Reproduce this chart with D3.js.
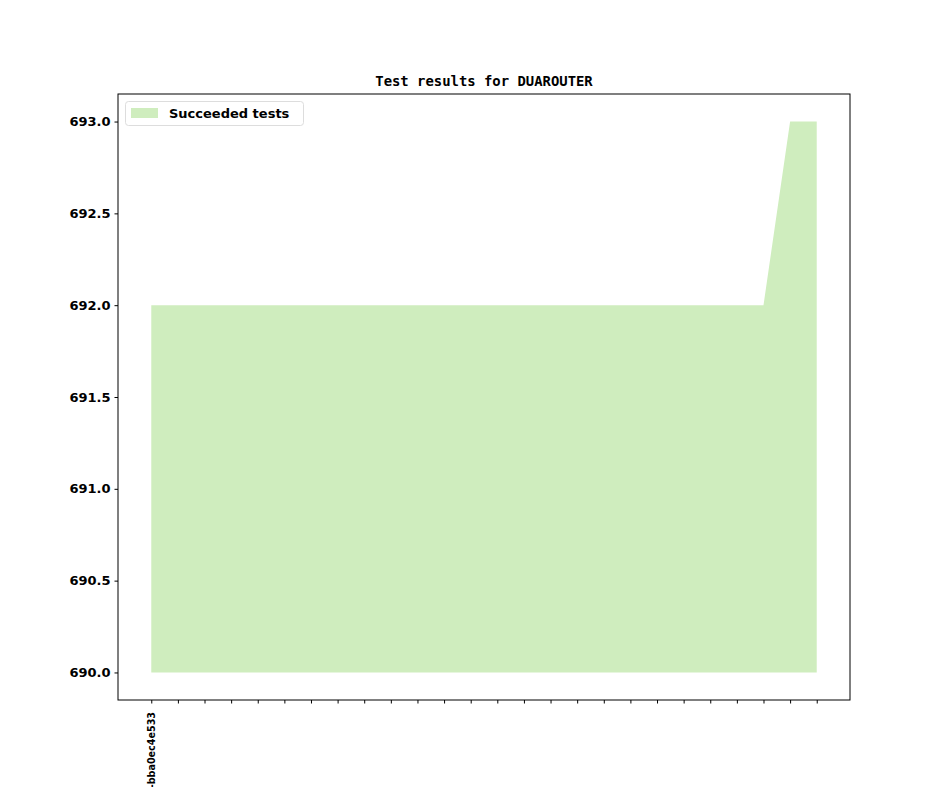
<!DOCTYPE html>
<html><head><meta charset="utf-8">
<script src="https://d3js.org/d3.v7.min.js"></script>
<style>body{margin:0;background:#fff}</style>
</head><body>
<script>
const title = "Test results for DUAROUTER";
const seriesName = "Succeeded tests";
const xLabels = ["v1_0_0-bba0ec4e533"].concat(Array(25).fill(""));
const succeeded = [692,692,692,692,692,692,692,692,692,692,692,692,692,692,692,692,692,692,692,692,692,692,692,692,693,693];
const baseline = 690;
const yTicks = [690.0,690.5,691.0,691.5,692.0,692.5,693.0];

const W=944,H=787;
const m={l:118,r:850,t:94,b:700};
const svg=d3.select("body").append("svg").attr("width",W).attr("height",H);
const n=succeeded.length;
const x=d3.scaleLinear().domain([-0.05*(n-1),(n-1)*1.05]).range([m.l,m.r]);
const ymin=baseline, ymax=d3.max(succeeded), pad=(ymax-ymin)*0.05;
const y=d3.scaleLinear().domain([ymin-pad,ymax+pad]).range([m.b,m.t]);
const fill="#cfedbe";

const area=d3.area().x((d,i)=>x(i)).y0(y(baseline)).y1(d=>y(d));
svg.append("path").datum(succeeded).attr("d",area).attr("fill",fill);

const yAxis=svg.append("g").attr("transform",`translate(${m.l},0)`)
  .call(d3.axisLeft(y).tickValues(yTicks).tickFormat(d3.format(".1f")).tickSize(3.5).tickPadding(4));
yAxis.select(".domain").remove();
yAxis.selectAll("text").attr("font-family","DejaVu Sans").attr("font-weight","bold").attr("font-size","13px").attr("fill","#000");
yAxis.selectAll("line").attr("stroke","#000");

const xAxis=svg.append("g").attr("transform",`translate(0,${m.b})`)
  .call(d3.axisBottom(x).tickValues(d3.range(n)).tickFormat(i=>xLabels[i]).tickSize(3.5).tickPadding(4));
xAxis.select(".domain").remove();
xAxis.selectAll("line").attr("stroke","#000");
xAxis.selectAll("text").attr("font-family","DejaVu Sans").attr("font-weight","bold").attr("font-size","9.6px").attr("fill","#000")
  .attr("text-anchor","end").attr("dy","0.35em").attr("transform","rotate(-90)").attr("x",-12).attr("y",0);

svg.append("rect").attr("x",m.l).attr("y",m.t).attr("width",m.r-m.l).attr("height",m.b-m.t)
  .attr("fill","none").attr("stroke","#000").attr("stroke-width",1);

svg.append("text").attr("x",(m.l+m.r)/2).attr("y",m.t-8).attr("text-anchor","middle")
  .attr("font-family","DejaVu Sans Mono").attr("font-weight","bold").attr("font-size","13.9px").text(title);

const lg=svg.append("g");
lg.append("rect").attr("x",125.5).attr("y",101.5).attr("width",178).attr("height",24).attr("rx",3)
  .attr("fill","#fff").attr("fill-opacity",0.8).attr("stroke","#ddd");
lg.append("rect").attr("x",131).attr("y",108).attr("width",27).attr("height",10).attr("fill",fill);
lg.append("text").attr("x",169).attr("y",118).attr("font-family","DejaVu Sans").attr("font-weight","bold")
  .attr("font-size","13px").text(seriesName);
</script>
</body></html>
